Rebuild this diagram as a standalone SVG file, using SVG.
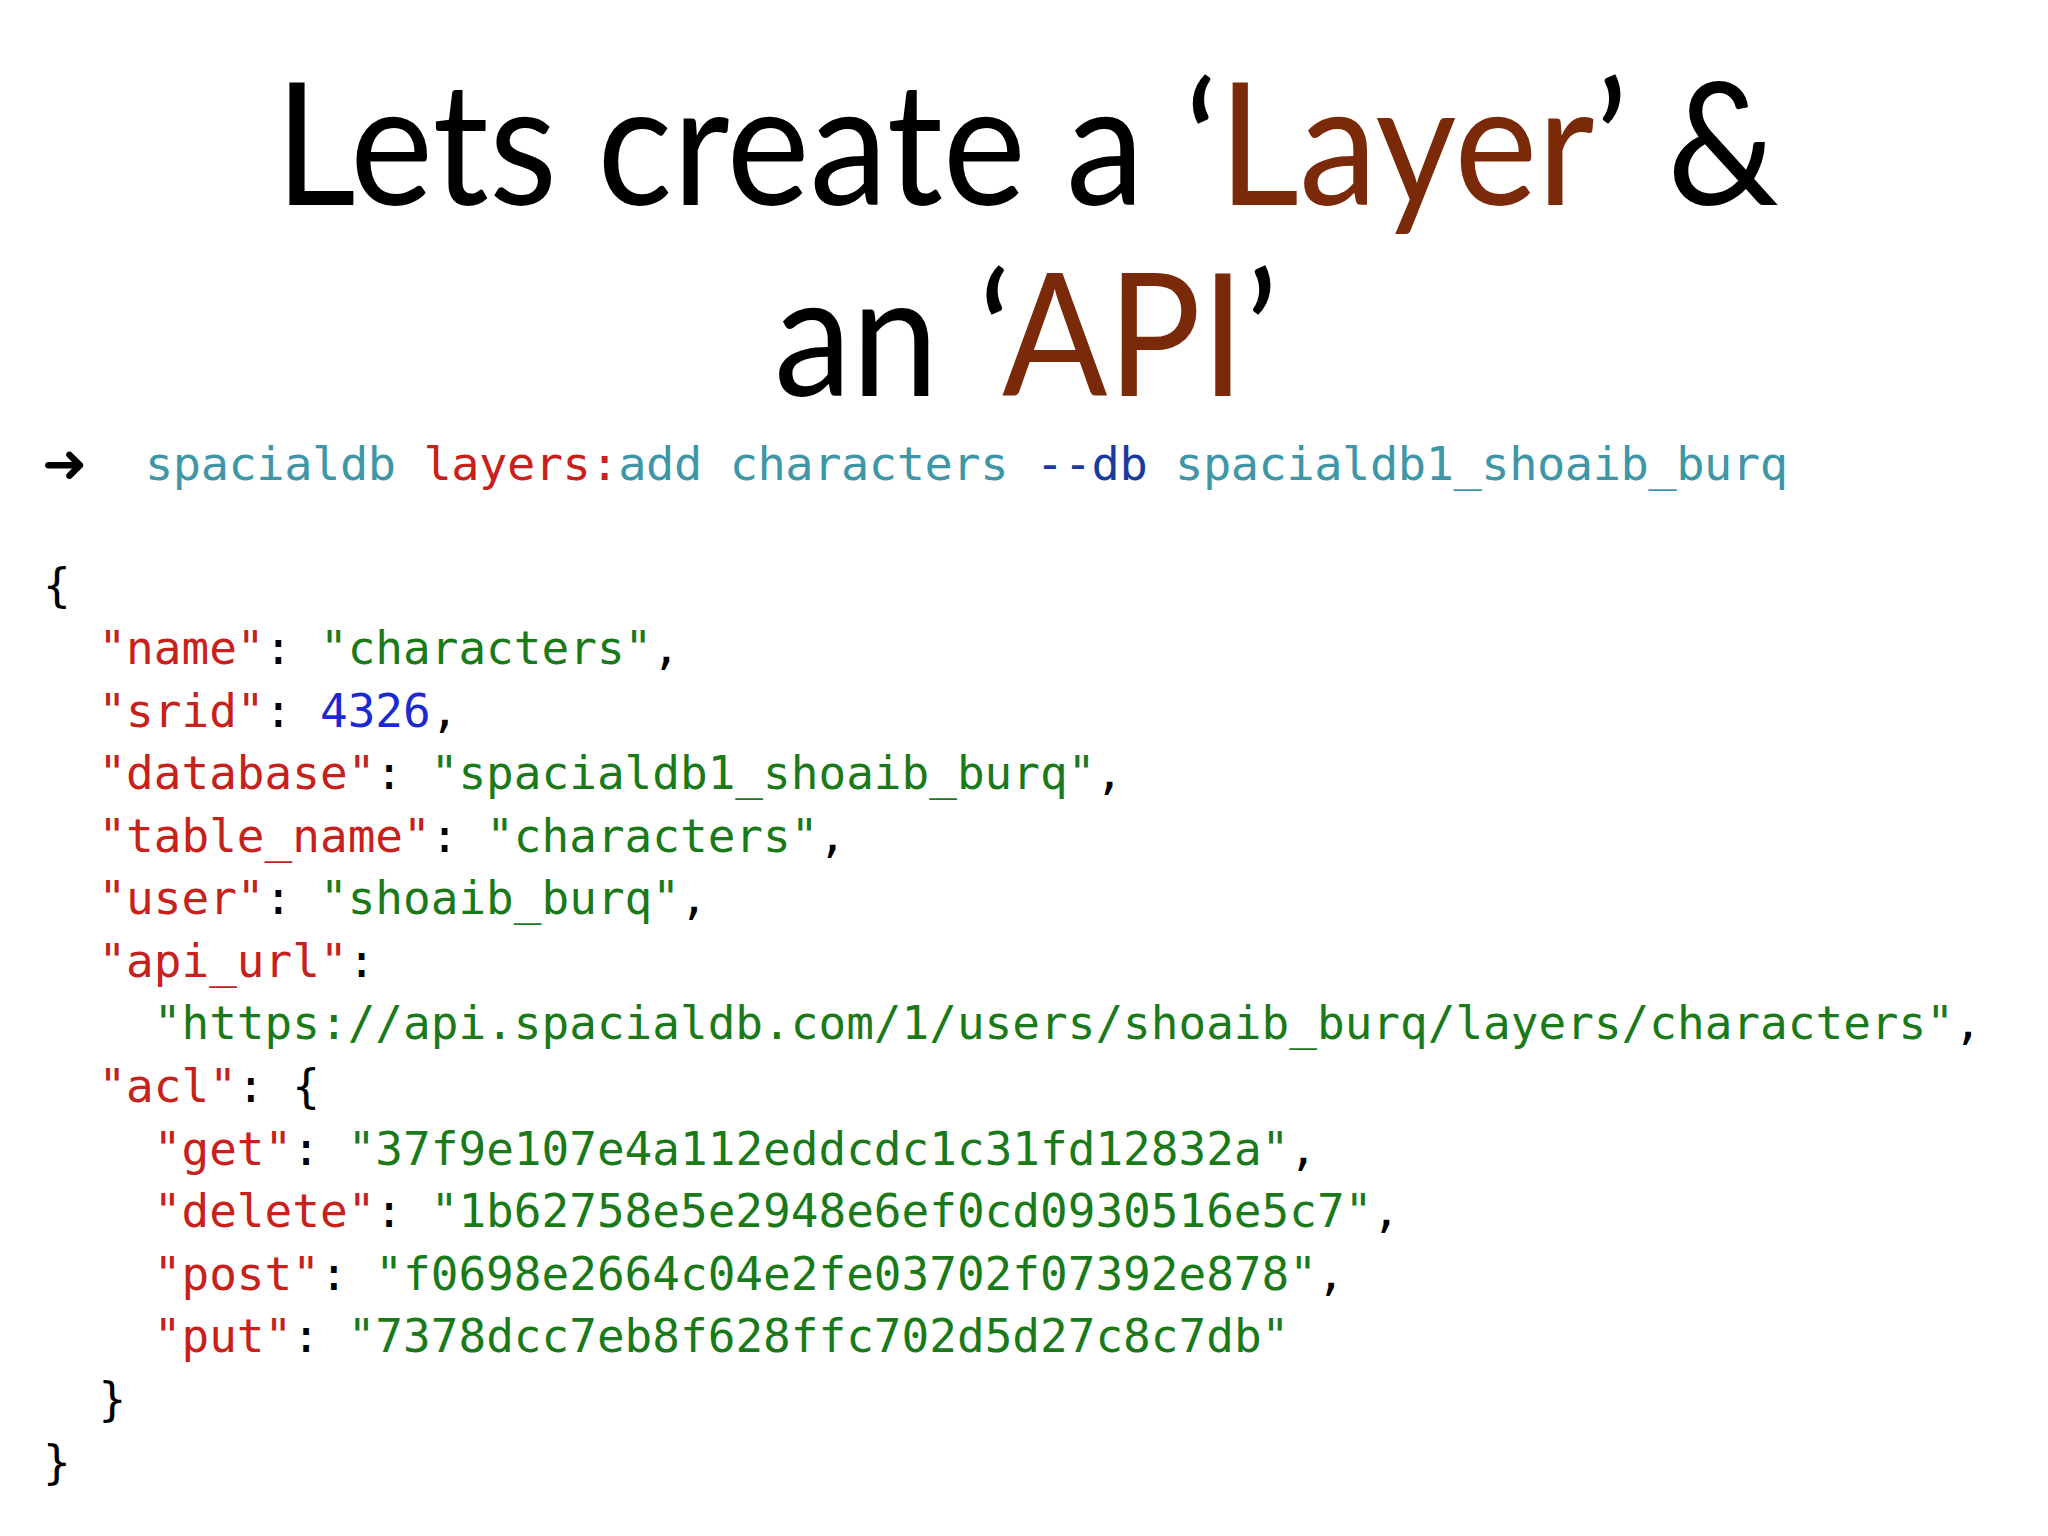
<svg xmlns="http://www.w3.org/2000/svg" width="2048" height="1536" viewBox="0 0 2048 1536">
<style>
.t{font-family:"Gill Sans","Lato","Open Sans",sans-serif;font-size:170px;fill:#000}
.b{fill:#7a2a08}
.m{font-family:"DejaVu Sans Mono",monospace;font-size:46px;white-space:pre;fill:#000}
.c{font-size:47px}
.tl{fill:#3e96a6}.r{fill:#c8201a}.g{fill:#1a7a1a}.n{fill:#1a2ad0}.dk{fill:#1a3aa0}
</style>
<rect width="2048" height="1536" fill="#fff"/>
<g id="title">
<text class="t" x="275" y="205" textLength="1504" lengthAdjust="spacingAndGlyphs">Lets create a ‘<tspan class="b">Layer</tspan>’ &amp;</text>
<text class="t" x="774" y="396" textLength="504" lengthAdjust="spacingAndGlyphs">an ‘<tspan class="b">API</tspan>’</text>
</g>
<g id="command">
<text x="42" y="482" style="font-family:'DejaVu Sans',sans-serif;font-size:54px;font-weight:bold;fill:#000">➜</text>
<text class="m c" x="145" y="480" textLength="1643" lengthAdjust="spacing"><tspan class="tl">spacialdb </tspan><tspan class="r">layers:</tspan><tspan class="tl">add characters </tspan><tspan class="dk">--db</tspan><tspan class="tl"> spacialdb1_shoaib_burq</tspan></text>
</g>
<g id="json" transform="translate(-6,-6)">
<text class="m" x="49" y="607">{</text>
<text class="m" x="49" y="670">  <tspan class="r">"name"</tspan>: <tspan class="g">"characters"</tspan>,</text>
<text class="m" x="49" y="733">  <tspan class="r">"srid"</tspan>: <tspan class="n">4326</tspan>,</text>
<text class="m" x="49" y="795">  <tspan class="r">"database"</tspan>: <tspan class="g">"spacialdb1_shoaib_burq"</tspan>,</text>
<text class="m" x="49" y="858">  <tspan class="r">"table_name"</tspan>: <tspan class="g">"characters"</tspan>,</text>
<text class="m" x="49" y="920">  <tspan class="r">"user"</tspan>: <tspan class="g">"shoaib_burq"</tspan>,</text>
<text class="m" x="49" y="983">  <tspan class="r">"api_url"</tspan>:</text>
<text class="m" x="49" y="1045">    <tspan class="g">"https://api.spacialdb.com/1/users/shoaib_burq/layers/characters"</tspan>,</text>
<text class="m" x="49" y="1108">  <tspan class="r">"acl"</tspan>: {</text>
<text class="m" x="49" y="1171">    <tspan class="r">"get"</tspan>: <tspan class="g">"37f9e107e4a112eddcdc1c31fd12832a"</tspan>,</text>
<text class="m" x="49" y="1233">    <tspan class="r">"delete"</tspan>: <tspan class="g">"1b62758e5e2948e6ef0cd0930516e5c7"</tspan>,</text>
<text class="m" x="49" y="1296">    <tspan class="r">"post"</tspan>: <tspan class="g">"f0698e2664c04e2fe03702f07392e878"</tspan>,</text>
<text class="m" x="49" y="1358">    <tspan class="r">"put"</tspan>: <tspan class="g">"7378dcc7eb8f628ffc702d5d27c8c7db"</tspan></text>
<text class="m" x="49" y="1421">  }</text>
<text class="m" x="49" y="1484">}</text>
</g>
</svg>
